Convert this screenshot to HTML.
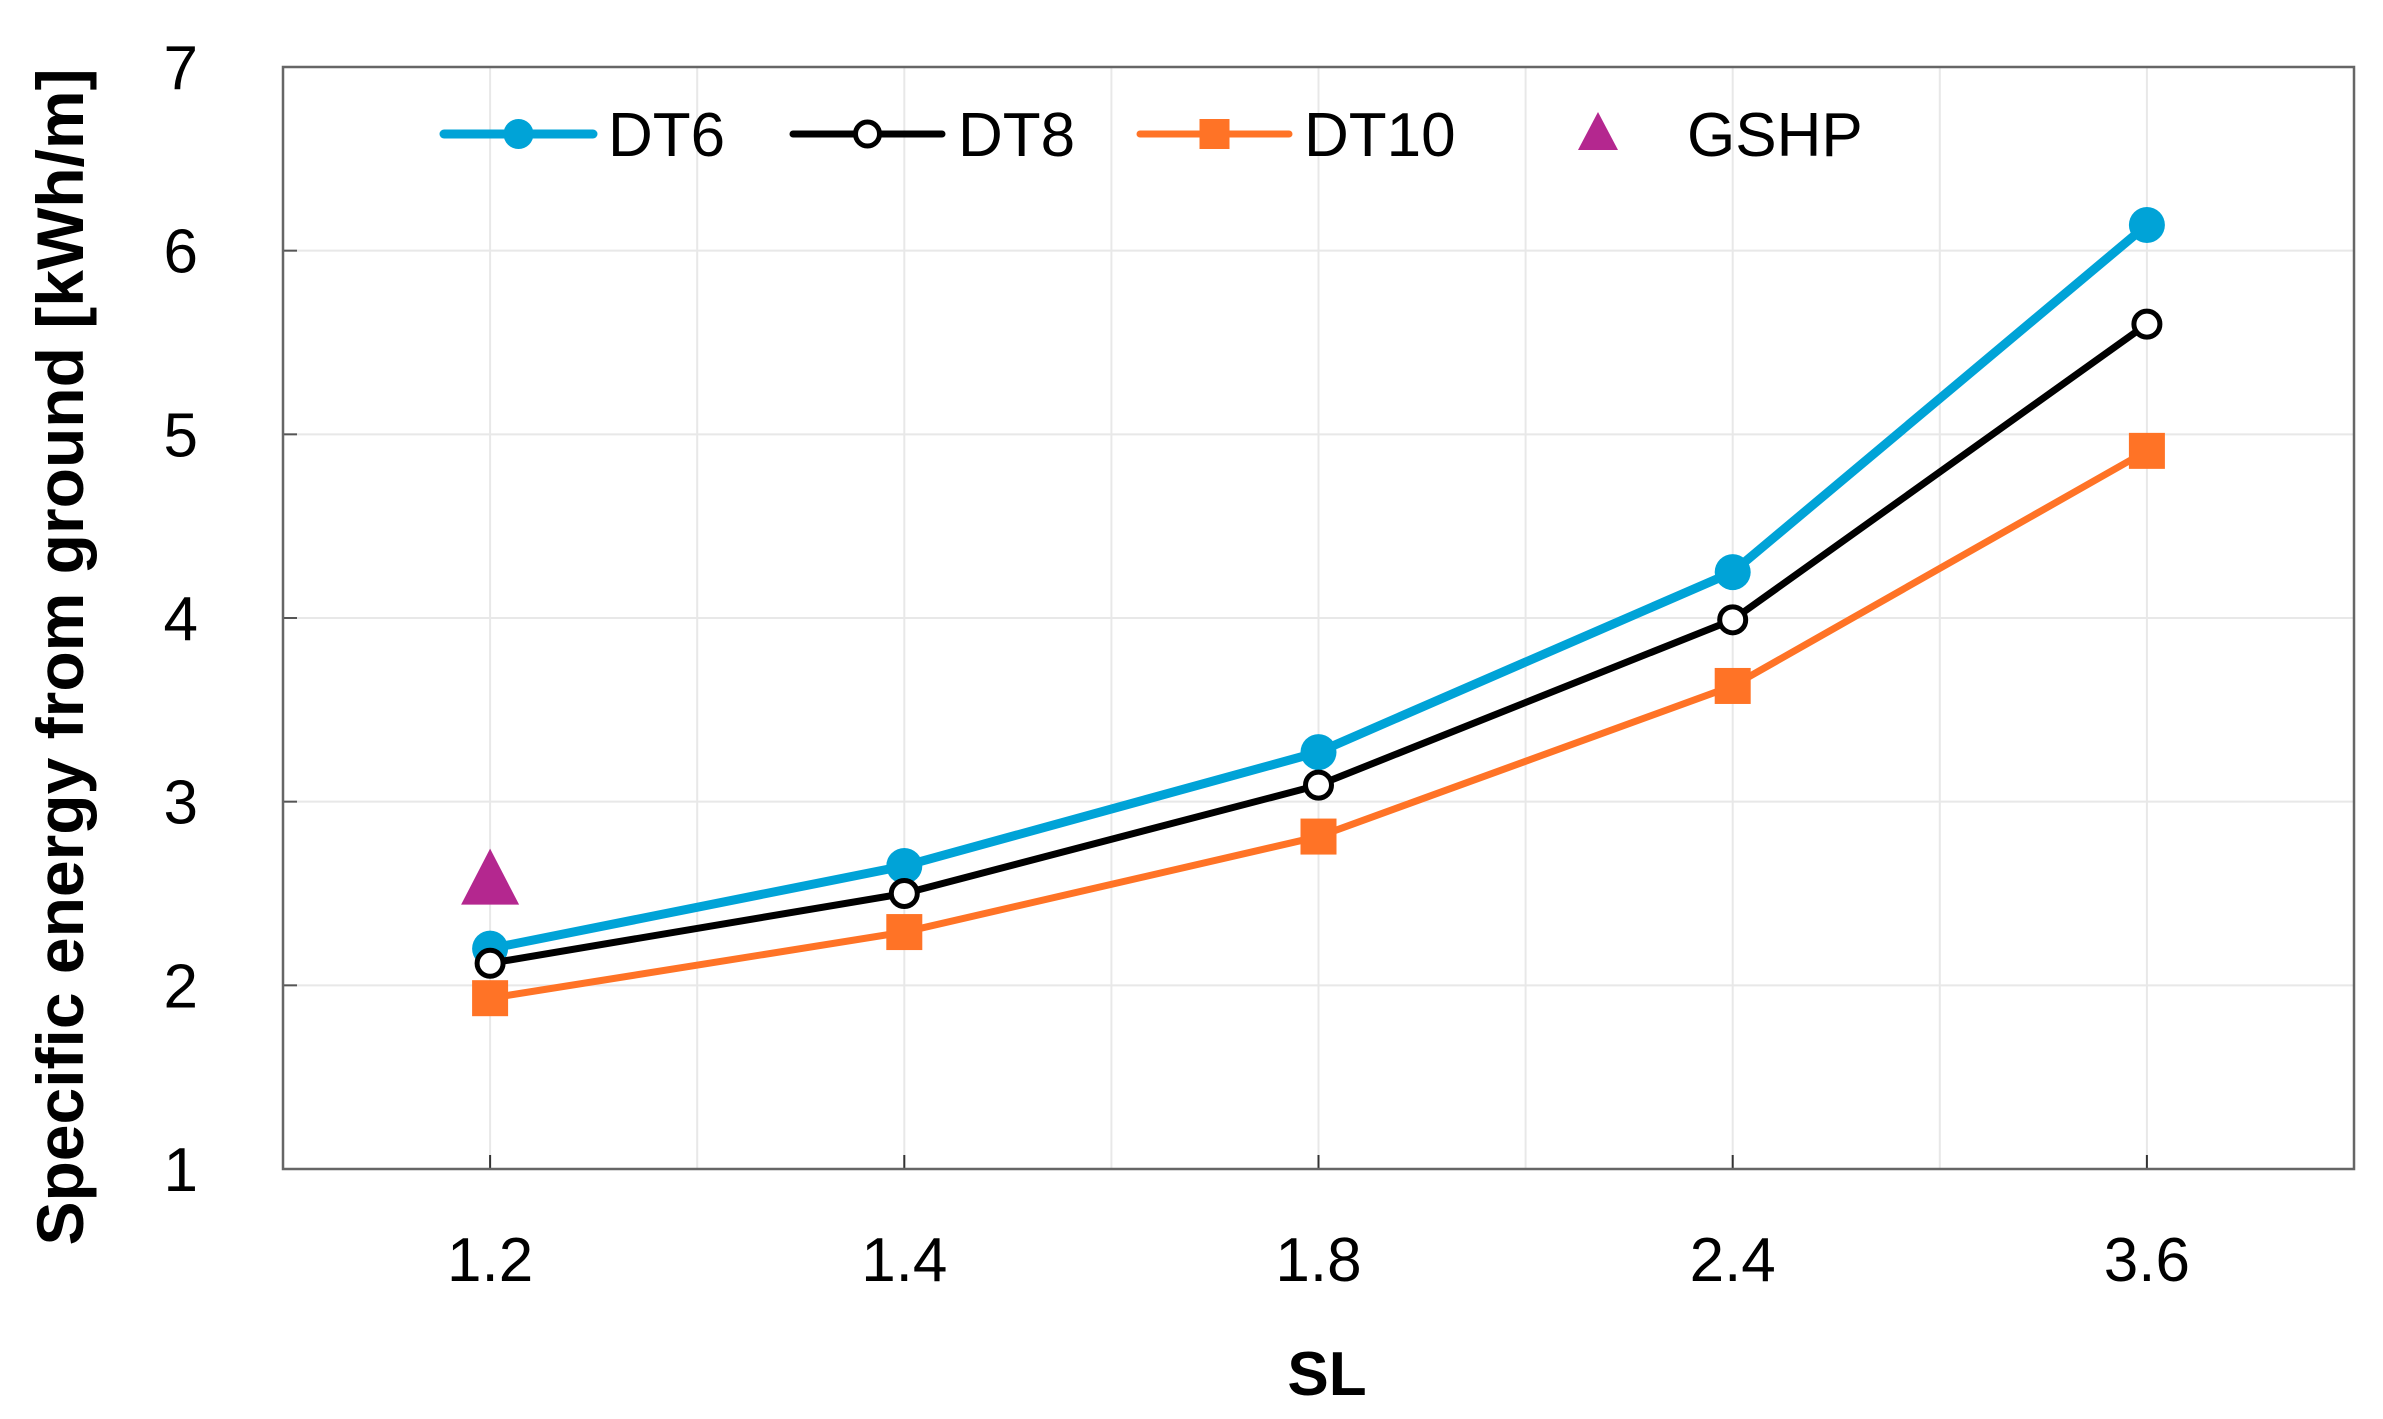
<!DOCTYPE html>
<html><head><meta charset="utf-8"><style>
html,body{margin:0;padding:0;background:#fff;}
svg{display:block;font-family:"Liberation Sans",Arial,sans-serif;}
</style></head><body>
<svg id="chart" width="2383" height="1419" viewBox="0 0 2383 1419" xmlns="http://www.w3.org/2000/svg"></svg>
<script>
const categories = ["1.2","1.4","1.8","2.4","3.6"];
const dt6 = [2.2, 2.65, 3.27, 4.25, 6.14];
const dt8 = [2.12, 2.5, 3.09, 3.99, 5.6];
const dt10 = [1.93, 2.29, 2.81, 3.63, 4.91];
const gshpIndex = [0];
const gshp = [2.57];
const yTicks = [1,2,3,4,5,6,7];

const L=283,R=2354,T=67,B=1169;
const NS="http://www.w3.org/2000/svg";
const svg=document.getElementById('chart');
function xs(i){return L+(i+0.5)*(R-L)/categories.length;}
function ys(v){return B-(v-1)*(B-T)/6;}
function mk(tag,attrs,parent){const e=document.createElementNS(NS,tag);for(const k in attrs)e.setAttribute(k,attrs[k]);(parent||svg).appendChild(e);return e;}

const grid=mk('g',{});


for(let i=0;i<=categories.length*2;i++){
  const x=L+i*(R-L)/(categories.length*2);
  if(i>0&&i<categories.length*2){const g=mk('line',{x1:x,x2:x,y1:T,y2:B,stroke:'#e8e8e8','stroke-width':2},grid);
  
  }
}
yTicks.forEach(v=>{
  const y=ys(v);
  if(v>1&&v<7){const g=mk('line',{x1:L,x2:R,y1:y,y2:y,stroke:'#e8e8e8','stroke-width':2},grid);
  
  }
  const tk=mk('line',{x1:L,x2:L+14,y1:y,y2:y,stroke:'#555','stroke-width':2});
  
  
  const t=mk('text',{x:198,y:y+22,'text-anchor':'end','font-size':62,fill:'#000'});
  t.textContent=v;
  
  
});
categories.forEach((c,i)=>{
  const x=xs(i);
  const tk=mk('line',{x1:x,x2:x,y1:B,y2:B-14,stroke:'#333','stroke-width':2});
  
  
  const t=mk('text',{x:x,y:1281,'text-anchor':'middle','font-size':62,fill:'#000'});
  t.textContent=c;
  
  
});
const frame=mk('rect',{x:L,y:T,width:R-L,height:B-T,fill:'none',stroke:'#666','stroke-width':2.5});



function series(vals,color,w,name){
  const g=mk('g',{});
  
  
  const pl=mk('polyline',{points:vals.map((v,i)=>xs(i)+','+ys(v)).join(' '),fill:'none',stroke:color,'stroke-width':w,'stroke-linejoin':'round'},g);
  
  
  return g;
}
const g6=series(dt6,'#00A3D7',9,'dt6');
dt6.forEach((v,i)=>{const c=mk('circle',{cx:xs(i),cy:ys(v),r:18,fill:'#00A3D7'},g6);

});
const g10=series(dt10,'#FF7326',7,'dt10');
dt10.forEach((v,i)=>{const c=mk('rect',{x:xs(i)-18,y:ys(v)-18,width:36,height:36,fill:'#FF7326'},g10);

});
const g8=series(dt8,'#000',7,'dt8');
dt8.forEach((v,i)=>{const c=mk('circle',{cx:xs(i),cy:ys(v),r:13,fill:'#fff',stroke:'#000','stroke-width':5},g8);

});
gshp.forEach((v,k)=>{const x=xs(gshpIndex[k]),y=ys(v);
const c=mk('polygon',{points:`${x},${y-32} ${x-29},${y+24} ${x+29},${y+24}`,fill:'#B4278F'});

});

const lg=mk('g',{});


function entry(x1,x2,tx,label,color,w,marker,name){
  const e=mk('g',{},lg);
  
  
  const y=134;
  if(x2>x1) mk('line',{x1:x1,x2:x2,y1:y,y2:y,stroke:color,'stroke-width':w,'stroke-linecap':'round'},e);
  const cx=(x1+x2)/2;
  if(marker==='dot') mk('circle',{cx:cx,cy:y,r:15,fill:color},e);
  if(marker==='open') mk('circle',{cx:cx,cy:y,r:12,fill:'#fff',stroke:color,'stroke-width':5},e);
  if(marker==='sq') mk('rect',{x:cx-15,y:y-15,width:30,height:30,fill:color},e);
  if(marker==='tri') mk('polygon',{points:`${cx},${y-22} ${cx-20},${y+16} ${cx+20},${y+16}`,fill:color},e);
  const t=mk('text',{x:tx,y:y+22,'font-size':62,fill:'#000'},e);
  t.textContent=label;
}
entry(444,593,608,'DT6','#00A3D7',9,'dot','dt6');
entry(793,942,958,'DT8','#000',7,'open','dt8');
entry(1140,1289,1304,'DT10','#FF7326',7,'sq','dt10');
entry(1598,1598,1687,'GSHP','#B4278F',0,'tri','gshp');

const yt=mk('text',{x:0,y:0,'font-size':66,'font-weight':'bold','text-anchor':'middle',transform:'translate(83,657) rotate(-90)',fill:'#000'});
yt.textContent='Specific energy from ground [kWh/m]';


const xt=mk('text',{x:1327,y:1395,'font-size':62,'font-weight':'bold','text-anchor':'middle',fill:'#000'});
xt.textContent='SL';


</script>
</body></html>
